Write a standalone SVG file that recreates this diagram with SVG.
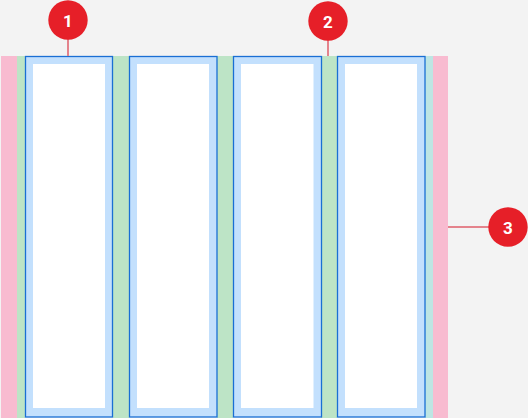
<svg xmlns="http://www.w3.org/2000/svg" width="528" height="418" viewBox="0 0 528 418">
<style>
.margin{fill:#f8bbd0}
.gutter{fill:#bde4c6}
.gutter-o{fill:#bde5e3}
.card{fill:#c3e0fd;stroke:#1a6fd4;stroke-width:1.3}
.inner{fill:#ffffff}
.lead{stroke:#e4838c;stroke-width:2;fill:none}
.badge{fill:#e61f28}
.num{fill:#ffffff;font-family:Roboto,"Liberation Sans",sans-serif;font-weight:700;font-size:17px;text-anchor:middle}
</style>
<rect x="0" y="0" width="528" height="418" fill="#f3f3f3"/>
<g id="margins">
<rect class="margin" x="1" y="56" width="16" height="362"/>
<rect class="margin" x="433" y="56" width="15" height="362"/>
</g>
<g id="gutters">
<rect class="gutter" x="17" y="56" width="8" height="362"/>
<rect class="gutter" x="113" y="56" width="16" height="362"/>
<rect class="gutter" x="217" y="56" width="16" height="362"/>
<rect class="gutter" x="321" y="56" width="16" height="362"/>
<rect class="gutter-o" x="425" y="56" width="8" height="362"/>
</g>
<g id="col1"><rect class="card" x="25.5" y="56.5" width="87" height="360.5"/><rect class="inner" x="33" y="64" width="72" height="344"/></g>
<g id="col2"><rect class="card" x="129.5" y="56.5" width="87.5" height="360.5"/><rect class="inner" x="137" y="64" width="72" height="344"/></g>
<g id="col3"><rect class="card" x="233.5" y="56.5" width="88" height="360.5"/><rect class="inner" x="241" y="64" width="72.5" height="344"/></g>
<g id="col4"><rect class="card" x="337.5" y="56.5" width="87.5" height="360.5"/><rect class="inner" x="345" y="64" width="72" height="344"/></g>
<g id="connectors">
<line class="lead" x1="68" y1="39" x2="68" y2="56"/>
<line class="lead" x1="328" y1="40" x2="328" y2="56"/>
<line class="lead" x1="448" y1="227" x2="489" y2="227"/>
</g>
<g id="badge1"><circle class="badge" cx="68" cy="20" r="19.7"/><text class="num" x="68" y="26.5">1</text></g>
<g id="badge2"><circle class="badge" cx="328" cy="21" r="19.7"/><text class="num" x="328" y="27.5">2</text></g>
<g id="badge3"><circle class="badge" cx="508" cy="227" r="19.7"/><text class="num" x="508" y="233.5">3</text></g>
</svg>
